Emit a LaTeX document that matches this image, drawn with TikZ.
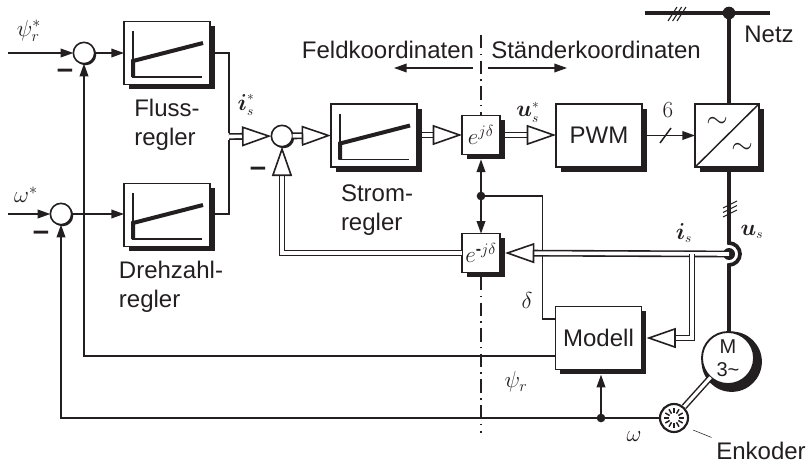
\documentclass[tikz,border=0pt]{standalone}
\usepackage{amsmath,amssymb}
\usepackage{fontspec}
\setmainfont{Liberation Sans}
\usepackage{tikz}
\usetikzlibrary{arrows.meta, shadows}
\definecolor{ink}{HTML}{231F20}
\newcommand{\kennlinie}[1]{%
  \draw[achse] ([shift={(-34,-22)}]#1.center) |- ([shift={(35,24)}]#1.center);
  \draw[kurve] ([shift={(-34,24)}]#1.center) -- ([shift={(-34,8)}]#1.center) -- ([shift={(36,-10)}]#1.center);
}
\tikzset{
  sig/.style={line width=1.1pt, -{Triangle[length=9.5pt,width=6.5pt]}},
  leitung/.style={line width=1.1pt},
  power/.style={line width=2.8pt},
  dbl/.style={line width=1.2pt, double, double distance=2.7pt, -{Triangle[open,fill=white,length=22pt,width=15pt,line width=1.2pt]}},
  achse/.style={line width=1.1pt},
  kurve/.style={line width=3pt, line join=miter},
  mittellinie/.style={line width=0.9pt, dash pattern=on 10pt off 4pt on 1.2pt off 4pt},
  shadowbox/.style={draw, fill=white, line width=1.2pt, rectangle, inner sep=0pt, outer sep=0pt,
    general shadow={fill=ink, shadow xshift=3.5pt, shadow yshift=-3.5pt}},
  regbox/.style={shadowbox, minimum width=64.5pt, minimum height=47.5pt},
  ebox/.style={shadowbox, minimum width=28.5pt, minimum height=29pt, font=\LARGE},
  sumnode/.style={draw, circle, fill=white, line width=1.2pt, minimum size=16pt, inner sep=0pt, outer sep=0pt,
    general shadow={fill=ink, shadow xshift=1.2pt, shadow yshift=-1.2pt}},
  punkt/.style={circle, fill=ink, minimum size=6.5pt, inner sep=0pt, outer sep=0pt},
  txt/.style={font=\fontsize{18}{22}\selectfont, align=left, text=ink},
  mathlabel/.style={font=\LARGE, text=ink},
  minuszeichen/.style={font=\fontsize{22}{24}\selectfont\bfseries, text=ink},
}
\begin{document}
\begin{tikzpicture}[x=0.75pt, y=-0.75pt, every node/.style={align=center}, color=ink]
  \useasboundingbox (0,0) rectangle (810,467);

  \draw[mittellinie] (481,35) -- (481,115);
  \draw[mittellinie] (481,277) -- (481,433);

  \node[regbox] (fluss) at (167,53) {};
  \node[regbox] (drehzahl) at (167,215) {};
  \node[regbox] (strom) at (374,135.5) {};
  \kennlinie{fluss}
  \kennlinie{drehzahl}
  \kennlinie{strom}
  \node[ebox] (ejd) at (481,135) {$e^{j\delta}$};
  \node[ebox] (emjd) at (481,253) {$e^{\text{\bfseries-}j\delta}$};
  \node[regbox, font=\fontsize{18}{22}\selectfont] (pwm) at (599,135.5) {PWM};
  \node[regbox, minimum width=48pt] (conv) at (727,135.5) {};
  \node[regbox, font=\fontsize{18}{22}\selectfont] (modell) at (598.5,338) {Modell};
  \draw[line width=1.1pt] (conv.south west) -- (conv.north east);
  \node[font=\huge] (tildeoben) at (717,122) {$\sim$};
  \node[font=\huge] (tildeunten) at (742,148) {$\sim$};

  \node[sumnode] (sumfluss) at (84,53) {};
  \node[sumnode] (sumdreh) at (61,214) {};
  \node[sumnode] (sumstrom) at (282,136) {};

  \node[txt] (flusstxt) at (167,125) {Fluss-\\regler};
  \node[txt] (dreh) at (171,287) {Drehzahl-\\regler};
  \node[txt] (stromtxt) at (377,210) {Strom-\\regler};
  \node[txt] (feld) at (388,50) {Feldkoordinaten};
  \node[txt] (staender) at (596,50) {Ständerkoordinaten};
  \node[txt] (netz) at (769,34) {Netz};

  \node[mathlabel] (psisoll) at (29,31) {$\psi_r^*$};
  \node[mathlabel] (omegasoll) at (26,195) {$\omega^*$};
  \node[mathlabel] (istrom) at (246,105) {$\boldsymbol{i}_{\scriptscriptstyle s}^{\scriptscriptstyle *}$};
  \node[mathlabel] (usoll) at (528,112) {$\boldsymbol{u}_{\scriptscriptstyle s}^{\scriptscriptstyle *}$};
  \node[mathlabel] (iist) at (684,233) {$\boldsymbol{i}_{\scriptscriptstyle s}$};
  \node[mathlabel] (uist) at (752,232) {$\boldsymbol{u}_{\scriptscriptstyle s}$};
  \node[mathlabel] (delta) at (527,300) {$\delta$};
  \node[mathlabel] (psi) at (516,382) {$\psi_r$};
  \node[mathlabel] (omega) at (634,437) {$\omega$};
  \node[mathlabel] (sechs) at (668,110) {$6$};
  \node[minuszeichen] (minusa) at (65,74) {--};
  \node[minuszeichen] (minusb) at (41,236) {--};
  \node[minuszeichen] (minusc) at (258,172) {--};

  \coordinate (feldmitte) at (473,68);
  \coordinate (feldende) at (394,68);
  \coordinate (staendermitte) at (488,68);
  \coordinate (staenderende) at (567,68);
  \draw[sig] (feldmitte) -- (feldende);
  \draw[sig] (staendermitte) -- (staenderende);

  \coordinate (psiein) at (8,53);
  \coordinate (omegaein) at (8,214);
  \coordinate (knoten) at (229,136.5);
  \draw[sig] (psiein) -- (sumfluss);
  \draw[sig] (sumfluss) -- (sumfluss -| fluss.west);
  \draw[sig] (omegaein) -- (sumdreh);
  \draw[sig] (sumdreh) -- (sumdreh -| drehzahl.west);
  \draw[leitung] (fluss.east |- sumfluss) -| ([shift={(0,-3.5)}]knoten);
  \draw[leitung] (drehzahl.east |- sumdreh) -| ([shift={(0,3.5)}]knoten);
  \draw[dbl] (knoten) -- (sumstrom);
  \draw[dbl] (sumstrom) -- (strom.west);
  \draw[dbl] ([shift={(5,0)}]strom.east |- ejd) -- (ejd.west);
  \draw[dbl] ([shift={(5,0)}]ejd.east) -- (pwm.west |- ejd);
  \draw[sig] (pwm.east) -- (conv.west);
  \draw[line width=1.1pt] (660,143) -- (671,128);

  \node[punkt] (deltaknoten) at (481,196) {};
  \draw[sig] (deltaknoten) -- ([shift={(0,5)}]ejd.south);
  \draw[sig] (deltaknoten) -- (emjd.north);
  \draw[leitung] (deltaknoten) -| ([shift={(-13,-19)}]modell.west) -- ([shift={(0,-19)}]modell.west);

  \draw[sig] ([shift={(0,18)}]modell.west) -| (sumfluss);
  \node[circle, draw, fill=white, line width=1.6pt, minimum size=21pt, inner sep=0pt] (enkoder) at (674,418) {};
  \foreach \w in {0,30,...,330} {
    \draw[line width=1.1pt] ([shift={(\w:5)}]enkoder.center) -- ([shift={(\w:10)}]enkoder.center);
  }
  \draw[sig] (enkoder) -- (enkoder -| sumdreh) -- (sumdreh);
  \node[punkt] (omegaknoten) at (601,418) {};
  \draw[sig] (omegaknoten) -- ([shift={(0,5)}]modell.south -| omegaknoten);

  \node[circle, fill=ink, minimum size=9.5pt, inner sep=0pt, outer sep=0pt] (busknoten) at (729,13) {};
  \node[circle, fill=ink, minimum size=9pt, inner sep=0pt, outer sep=0pt] (messknoten) at (729,254) {};
  \node[circle, draw, fill=white, line width=1.4pt, minimum size=39pt, inner sep=0pt, outer sep=0pt,
    general shadow={fill=ink, shadow xshift=2.4pt, shadow yshift=-2.4pt, shadow scale=1.16},
    font=\fontsize{15}{18}\selectfont] (motor) at (728,358) {M\\[-1pt]3\textasciitilde};
  \coordinate (busl) at (645,13);
  \coordinate (busr) at (770,13);
  \draw[power] (busl) -- (busr);
  \draw[power] (busknoten) -- (busknoten |- conv.north);
  \draw[power] ([shift={(0,5)}]busknoten |- conv.south) -- ([shift={(0,-11)}]messknoten.center) arc[start angle=-90, end angle=90, radius=11] -- (messknoten |- motor.north);
  \draw[line width=0.8pt] (668,21) -- (677,7) (672.6,21) -- (681.6,7) (677,21) -- (686,7);
  \draw[line width=0.8pt] (723,208) -- (737,201) (723,212.5) -- (737,205.5) (723,217) -- (737,210);

  \draw[dbl] (messknoten.center) -- ([shift={(5,0)}]emjd.east);
  \draw[dbl] (692,254) |- ([shift={(5,0)}]modell.east);
  \draw[dbl] (emjd.west) -| (sumstrom);
  \draw[line width=1.1pt, double, double distance=2.4pt] (enkoder) -- (motor);
  \node[txt] (enktxt) at (761,451) {Enkoder};
  \draw[line width=0.4pt] ([shift={(19,12)}]enkoder.center) -- (enktxt.north west);
\end{tikzpicture}
\end{document}
